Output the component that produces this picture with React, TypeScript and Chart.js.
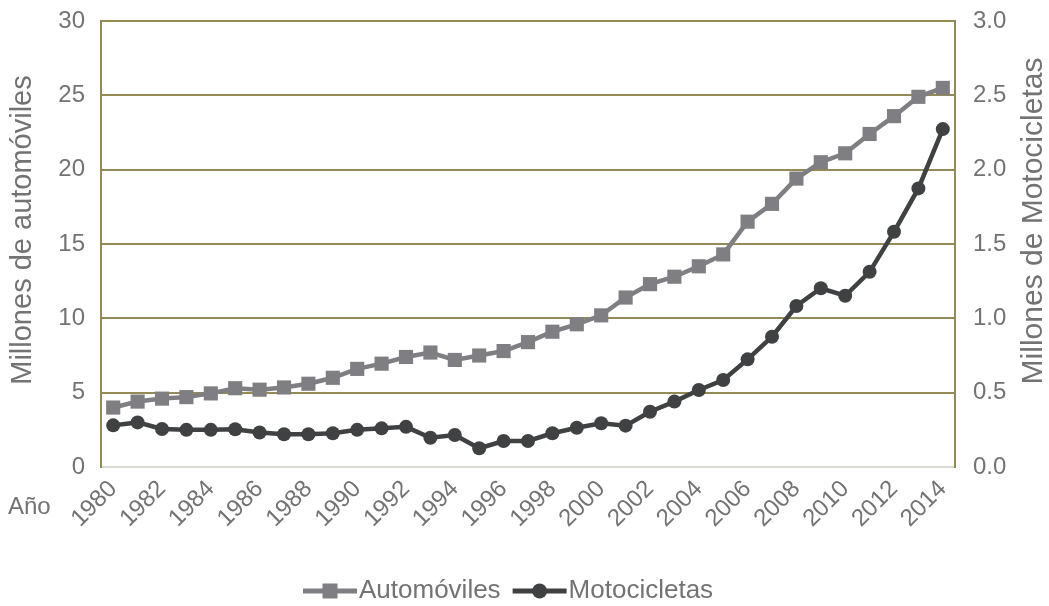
import React, { useEffect, useRef } from "react";
import { Chart, registerables } from "chart.js";

Chart.register(...registerables);

const years = [
  "1980", "1981", "1982", "1983", "1984", "1985", "1986", "1987", "1988", "1989",
  "1990", "1991", "1992", "1993", "1994", "1995", "1996", "1997", "1998", "1999",
  "2000", "2001", "2002", "2003", "2004", "2005", "2006", "2007", "2008", "2009",
  "2010", "2011", "2012", "2013", "2014",
];

const automoviles = [
  4.0, 4.4, 4.6, 4.7, 4.95, 5.3, 5.2, 5.35, 5.6, 6.0,
  6.6, 6.95, 7.4, 7.7, 7.2, 7.5, 7.8, 8.4, 9.1, 9.6,
  10.2, 11.4, 12.3, 12.8, 13.5, 14.3, 16.5, 17.7, 19.4, 20.5,
  21.1, 22.4, 23.6, 24.9, 25.5,
];

const motocicletas = [
  0.28, 0.30, 0.256, 0.25, 0.25, 0.254, 0.232, 0.22, 0.22, 0.227,
  0.25, 0.26, 0.27, 0.197, 0.215, 0.126, 0.175, 0.175, 0.227, 0.264,
  0.294, 0.278, 0.372, 0.44, 0.518, 0.585, 0.724, 0.876, 1.083, 1.202,
  1.152, 1.313, 1.582, 1.874, 2.273,
];

const leftTitle = "Millones de automóviles";
const rightTitle = "Millones de Motocicletas";
const xLabel = "Año";
const seriesNames = ["Automóviles", "Motocicletas"];

const FONT = "'Liberation Sans', Arial, Helvetica, sans-serif";
const OLIVE = "#948a55";
const AUTO_C = "#7f7f83";
const MOTO_C = "#404143";
const TEXT_C = "#737376";

export default function App() {
  const ref = useRef<HTMLCanvasElement | null>(null);

  useEffect(() => {
    document.body.style.margin = "0";
    const canvas = ref.current;
    if (!canvas) return;

    const extras = {
      id: "extras",
      afterDraw(chart: any) {
        const ctx = chart.ctx;
        ctx.save();
        ctx.fillStyle = TEXT_C;
        // "Año"
        ctx.font = `24px ${FONT}`;
        ctx.textAlign = "left";
        ctx.textBaseline = "middle";
        ctx.fillText(xLabel, 8, 507);
        // axis titles
        ctx.textAlign = "center";
        ctx.textBaseline = "middle";
        ctx.font = `29px ${FONT}`;
        ctx.save();
        ctx.translate(23, 230);
        ctx.rotate(-Math.PI / 2);
        ctx.fillText(leftTitle, 0, 0);
        ctx.restore();
        ctx.font = `30px ${FONT}`;
        ctx.save();
        ctx.translate(1034, 221);
        ctx.rotate(-Math.PI / 2);
        ctx.fillText(rightTitle, 0, 0);
        ctx.restore();
        // legend
        const y = 591;
        ctx.font = `26px ${FONT}`;
        ctx.textAlign = "left";
        let x = 303;
        const items = [
          { name: seriesNames[0], color: AUTO_C, shape: "rect" },
          { name: seriesNames[1], color: MOTO_C, shape: "circle" },
        ];
        items.forEach((it) => {
          ctx.strokeStyle = it.color;
          ctx.fillStyle = it.color;
          ctx.lineWidth = 5;
          ctx.beginPath();
          ctx.moveTo(x, y);
          ctx.lineTo(x + 54, y);
          ctx.stroke();
          if (it.shape === "rect") {
            ctx.fillRect(x + 27 - 7.5, y - 7.5, 15, 15);
          } else {
            ctx.beginPath();
            ctx.arc(x + 27, y, 7.5, 0, Math.PI * 2);
            ctx.fill();
          }
          ctx.fillStyle = TEXT_C;
          ctx.fillText(it.name, x + 56, y);
          x += 56 + ctx.measureText(it.name).width + 12;
        });
        ctx.restore();
      },
    };

    const chart = new Chart(canvas, {
      type: "line",
      data: {
        labels: years,
        datasets: [
          {
            label: seriesNames[0],
            data: automoviles,
            yAxisID: "y",
            borderColor: AUTO_C,
            backgroundColor: AUTO_C,
            borderWidth: 4.5,
            pointStyle: "rect",
            pointRadius: 10,
            pointBorderWidth: 0,
            pointBackgroundColor: AUTO_C,
            tension: 0,
          },
          {
            label: seriesNames[1],
            data: motocicletas,
            yAxisID: "y1",
            borderColor: MOTO_C,
            backgroundColor: MOTO_C,
            borderWidth: 4.5,
            pointStyle: "circle",
            pointRadius: 7,
            pointBorderWidth: 0,
            pointBackgroundColor: MOTO_C,
            tension: 0,
          },
        ],
      },
      options: {
        animation: false,
        responsive: false,
        layout: { padding: { top: 21, left: 0, right: 0, bottom: 0 } },
        plugins: {
          legend: { display: false },
          tooltip: { enabled: false },
        },
        scales: {
          x: {
            type: "category",
            offset: true,
            grid: { display: false, drawTicks: false },
            border: { display: true, color: "#d9d9cf", width: 2 },
            ticks: {
              autoSkip: false,
              maxRotation: 45,
              minRotation: 45,
              padding: 8,
              color: TEXT_C,
              font: { size: 24, family: FONT },
              callback: (_v: any, i: number) => (i % 2 === 0 ? years[i] : ""),
            },
            afterFit: (s: any) => {
              s.height = 139;
            },
          },
          y: {
            position: "left",
            min: 0,
            max: 30,
            grid: {
              drawTicks: false,
              lineWidth: 2,
              color: (c: any) => (c.tick && c.tick.value === 0 ? "rgba(0,0,0,0)" : OLIVE),
            },
            border: { display: true, color: OLIVE, width: 2 },
            ticks: {
              stepSize: 5,
              padding: 16,
              color: TEXT_C,
              font: { size: 24, family: FONT },
            },
            afterFit: (s: any) => {
              s.width = 101;
              s.paddingTop = 0;
              s.paddingBottom = 0;
            },
          },
          y1: {
            position: "right",
            min: 0,
            max: 3,
            grid: { display: false, drawTicks: false },
            border: { display: true, color: OLIVE, width: 2 },
            ticks: {
              stepSize: 0.5,
              padding: 18,
              color: TEXT_C,
              font: { size: 24, family: FONT },
              callback: (v: any) => Number(v).toFixed(1),
            },
            afterFit: (s: any) => {
              s.width = 94;
              s.paddingTop = 0;
              s.paddingBottom = 0;
            },
          },
        },
      },
      plugins: [extras],
    });

    return () => chart.destroy();
  }, []);

  return (
    <div style={{ width: 1049, height: 606, position: "relative" }}>
      <canvas ref={ref} width={1049} height={606} style={{ display: "block" }} />
    </div>
  );
}
